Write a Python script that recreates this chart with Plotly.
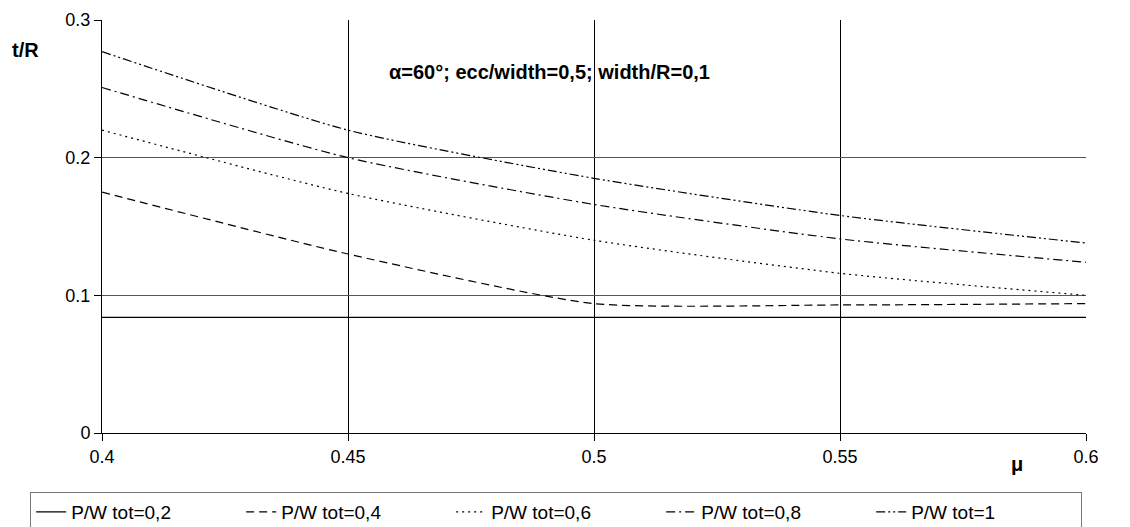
import plotly.graph_objects as go

mu = [0.4, 0.45, 0.5, 0.55, 0.6]
series_names = ["P/W tot=0,2", "P/W tot=0,4", "P/W tot=0,6", "P/W tot=0,8", "P/W tot=1"]
t_02 = [0.084, 0.084, 0.084, 0.084, 0.084]
t_04 = [0.175, 0.130, 0.094, 0.093, 0.094]
t_06 = [0.220, 0.174, 0.140, 0.116, 0.100]
t_08 = [0.251, 0.200, 0.166, 0.141, 0.124]
t_10 = [0.277, 0.220, 0.185, 0.158, 0.138]
x_ticks = [0.4, 0.45, 0.5, 0.55, 0.6]
y_ticks = [0, 0.1, 0.2, 0.3]

values = [t_02, t_04, t_06, t_08, t_10]
dashes = ["solid", "8px,5px", "2px,4px", "9px,4px,2px,4px", "9px,3px,2px,3px,2px,3px"]

FONT = "Liberation Sans, Arial, sans-serif"
fig = go.Figure()
for name, vals, d in zip(series_names, values, dashes):
    fig.add_trace(go.Scatter(
        x=mu, y=vals, name=name, mode="lines",
        line=dict(color="black", width=1.2, dash=d, shape="spline", smoothing=0.6),
    ))

fig.update_layout(
    width=1122, height=519,
    margin=dict(l=94, r=44, t=12, b=94, autoexpand=False),
    paper_bgcolor="white", plot_bgcolor="white",
    font=dict(family=FONT, size=18, color="black"),
    showlegend=True,
    legend=dict(orientation="h", xref="paper", x=-0.073, yref="paper", y=-0.143,
                xanchor="left", yanchor="top",
                bordercolor="#777", borderwidth=1, font=dict(size=19),
                entrywidth=165, entrywidthmode="pixels", tracegroupgap=0),
    xaxis=dict(range=[0.4, 0.6], tickvals=x_ticks, ticktext=[f"{v:g}" for v in x_ticks],
               showgrid=True, gridcolor="black", gridwidth=1,
               showline=True, linecolor="black", linewidth=1,
               ticks="outside", ticklen=7, tickcolor="black", zeroline=False),
    yaxis=dict(range=[0, 0.3], tickvals=y_ticks, ticktext=[f"{v:g}" for v in y_ticks],
               showgrid=True, gridcolor="#555", gridwidth=1,
               showline=True, linecolor="black", linewidth=1,
               ticks="outside", ticklen=7, tickcolor="black", zeroline=False),
    annotations=[
        dict(text="<b>t/R</b>", xref="paper", yref="paper", x=-0.094, y=0.927,
             xanchor="left", yanchor="middle", showarrow=False, font=dict(size=20)),
        dict(text="<b>μ</b>", xref="paper", yref="paper", x=0.93, y=-0.075,
             xanchor="center", yanchor="middle", showarrow=False, font=dict(size=20)),
        dict(text="<b>α=60°; ecc/width=0,5; width/R=0,1</b>", xref="paper", yref="paper",
             x=0.455, y=0.875, xanchor="center", yanchor="middle", showarrow=False,
             font=dict(size=20)),
    ],
)
fig.write_html("out.html")
